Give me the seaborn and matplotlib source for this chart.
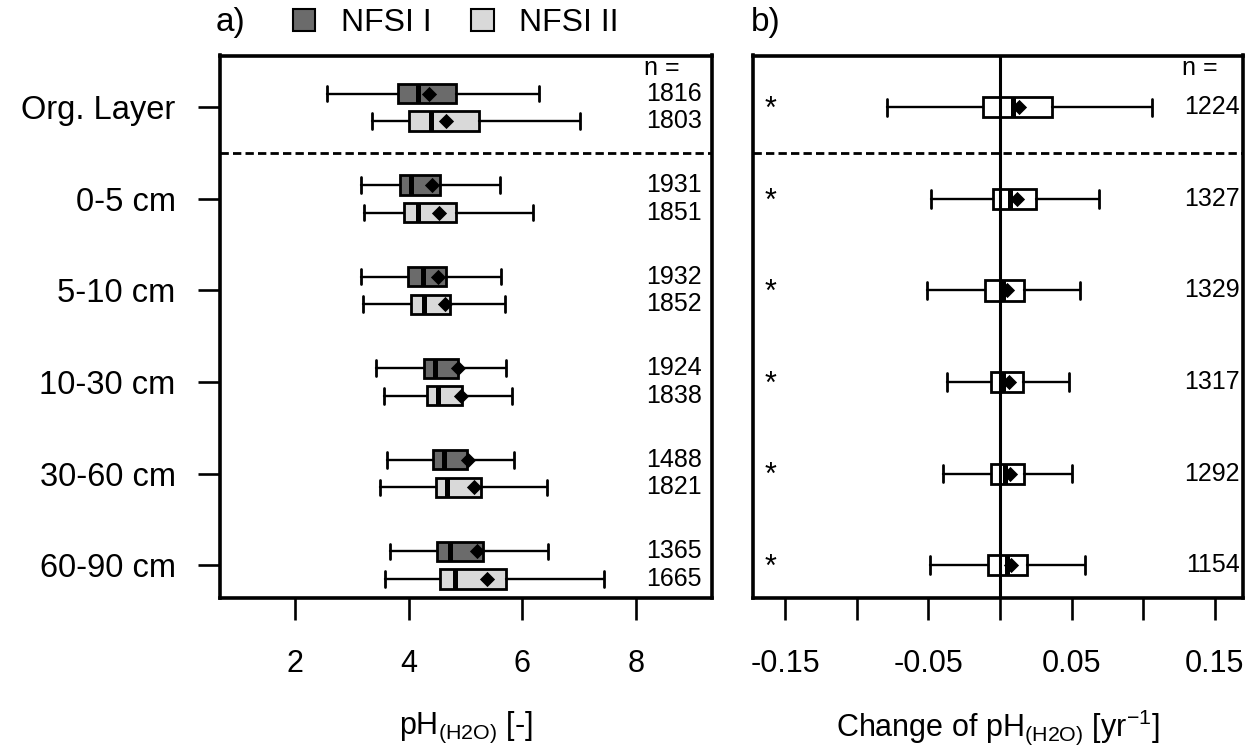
import matplotlib
matplotlib.use("Agg")
import matplotlib.pyplot as plt
import matplotlib.transforms as mtransforms
from matplotlib.patches import Patch
import numpy as np
import pandas as pd
import seaborn as sns

# ---------------- data ----------------
depths = ["Org. Layer", "0-5 cm", "5-10 cm", "10-30 cm", "30-60 cm", "60-90 cm"]

# NFSI I  (pH H2O)
whislo1 = [2.57, 3.16, 3.16, 3.42, 3.62, 3.67]
q1_1 = [3.82, 3.85, 3.98, 4.27, 4.42, 4.50]
med1 = [4.17, 4.05, 4.26, 4.46, 4.62, 4.73]
mean1 = [4.36, 4.41, 4.52, 4.86, 5.04, 5.20]
q3_1 = [4.83, 4.56, 4.66, 4.87, 5.02, 5.31]
whishi1 = [6.30, 5.61, 5.63, 5.71, 5.86, 6.46]
n1 = [1816, 1931, 1932, 1924, 1488, 1365]

# NFSI II (pH H2O)
whislo2 = [3.35, 3.22, 3.20, 3.57, 3.50, 3.58]
q1_2 = [4.01, 3.91, 4.04, 4.32, 4.48, 4.55]
med2 = [4.39, 4.17, 4.27, 4.52, 4.67, 4.82]
mean2 = [4.66, 4.54, 4.64, 4.92, 5.15, 5.37]
q3_2 = [5.24, 4.83, 4.72, 4.93, 5.27, 5.71]
whishi2 = [7.01, 6.19, 5.70, 5.81, 6.43, 7.43]
n2 = [1803, 1851, 1852, 1838, 1821, 1665]

# change of pH per year
whislo_c = [-0.079, -0.048, -0.051, -0.037, -0.040, -0.049]
q1_c = [-0.012, -0.005, -0.0105, -0.0063, -0.0063, -0.0086]
med_c = [0.009, 0.007, 0.002, 0.0023, 0.0035, 0.0047]
mean_c = [0.0135, 0.0116, 0.0047, 0.0065, 0.0070, 0.0075]
q3_c = [0.036, 0.025, 0.017, 0.0158, 0.017, 0.019]
whishi_c = [0.106, 0.069, 0.056, 0.048, 0.050, 0.059]
n_c = [1224, 1327, 1329, 1317, 1292, 1154]
signif = ["*", "*", "*", "*", "*", "*"]

series_labels = ["NFSI I", "NFSI II"]
xticks_a = [2, 4, 6, 8]
xticks_b = [-0.15, -0.10, -0.05, 0.0, 0.05, 0.10, 0.15]
xticklabels_b = ["-0.15", "", "-0.05", "", "0.05", "", "0.15"]

# ---------------- style ----------------
sns.set_style("ticks")
plt.rcParams["font.family"] = ["Liberation Sans", "DejaVu Sans"]
plt.rcParams["mathtext.default"] = "regular"
plt.rcParams["text.color"] = "black"
plt.rcParams["axes.labelcolor"] = "black"
plt.rcParams["xtick.color"] = "black"
plt.rcParams["ytick.color"] = "black"

DARK = "#6b6b6b"
LIGHT = "#d9d9d9"


def make_stats(lo, q1, med, q3, hi):
    return [dict(whislo=a, q1=b, med=c, q3=d, whishi=e, fliers=[])
            for a, b, c, d, e in zip(lo, q1, med, q3, hi)]


fig = plt.figure(figsize=(12.57, 7.5), dpi=100)
H = 0.7227
B = 0.2033
axa = fig.add_axes([0.1750, B, 0.3918, H])
axb = fig.add_axes([0.5988, B, 0.3898, H])

pos = np.arange(len(depths))
off = 0.15

common = dict(orientation="horizontal", patch_artist=True, showfliers=False,
              whiskerprops=dict(color="black", lw=1.7),
              capprops=dict(color="black", lw=2.0),
              medianprops=dict(color="black", lw=3.6, solid_capstyle="butt"))

axa.bxp(make_stats(whislo1, q1_1, med1, q3_1, whishi1), positions=pos - off,
        widths=0.21, capwidths=0.17,
        boxprops=dict(facecolor=DARK, edgecolor="black", linewidth=2.0), **common)
axa.bxp(make_stats(whislo2, q1_2, med2, q3_2, whishi2), positions=pos + off,
        widths=0.21, capwidths=0.17,
        boxprops=dict(facecolor=LIGHT, edgecolor="black", linewidth=2.0), **common)

dfa = pd.DataFrame({"mean": mean1 + mean2,
                    "pos": list(pos - off) + list(pos + off)})
sns.scatterplot(data=dfa, x="mean", y="pos", marker="D", color="black", s=60,
                linewidth=0, ax=axa, zorder=6, legend=False)

axb.axvline(0, color="black", lw=2.2, zorder=3)
axb.bxp(make_stats(whislo_c, q1_c, med_c, q3_c, whishi_c), positions=pos,
        widths=0.22, capwidths=0.19,
        boxprops=dict(facecolor="white", edgecolor="black", linewidth=2.0), **common)
dfb = pd.DataFrame({"mean": mean_c, "pos": pos})
sns.scatterplot(data=dfb, x="mean", y="pos", marker="D", color="black", s=60,
                linewidth=0, ax=axb, zorder=6, legend=False)

for ax in (axa, axb):
    ax.axhline(0.5, color="black", lw=2.0, ls=(0, (3, 1.5)), zorder=1)
    ax.set_ylim(5.353, -0.565)
    for sp in ax.spines.values():
        sp.set_visible(True)
        sp.set_color("black")
        sp.set_linewidth(2.6)
    ax.tick_params(axis="x", length=16, width=1.9, color="black", pad=21,
                   labelsize=22, labelcolor="black")
    ax.set_ylabel("")

axa.set_xlim(0.680, 9.346)
axa.set_xticks(xticks_a, [str(t) for t in xticks_a])
axa.set_yticks(pos, depths)
axa.tick_params(axis="y", length=16, width=1.9, color="black", pad=16,
                labelsize=23.5, labelcolor="black")

axb.set_xlim(-0.1726, 0.1694)
axb.set_xticks(xticks_b, xticklabels_b)
axb.set_yticks([])

# n labels
NFS = 18
ta = mtransforms.blended_transform_factory(axa.transAxes, axa.transData)
tb = mtransforms.blended_transform_factory(axb.transAxes, axb.transData)
for i in range(len(depths)):
    axa.text(0.978, pos[i] - off, str(n1[i]), ha="right", va="center",
             fontsize=NFS, transform=ta)
    axa.text(0.978, pos[i] + off, str(n2[i]), ha="right", va="center",
             fontsize=NFS, transform=ta)
    axb.text(0.994, pos[i], str(n_c[i]), ha="right", va="center",
             fontsize=NFS, transform=tb)
    axb.text(0.037, pos[i] + 0.03, signif[i], ha="center", va="center",
             fontsize=22, transform=tb)
axa.text(0.860, -0.425, "n =", ha="left", va="center", fontsize=NFS, transform=ta)
axb.text(0.876, -0.425, "n =", ha="left", va="center", fontsize=NFS, transform=tb)

# axis labels
axa.set_xlabel(r"pH$_{(H2O)}$ [-]", fontsize=22)
axb.set_xlabel(r"Change of pH$_{(H2O)}$ [yr$^{-1}$]", fontsize=22)
for ax in (axa, axb):
    ax.xaxis.set_label_coords(0.5, -0.24)
    ax.xaxis.label.set_va("center")

# panel letters
fig.text(216 / 1257, 1 - 23 / 750, "a)", fontsize=24, ha="left", va="center")
fig.text(751 / 1257, 1 - 23 / 750, "b)", fontsize=24, ha="left", va="center")

# legend
handles = [Patch(facecolor=DARK, edgecolor="black", lw=1.5, label=series_labels[0]),
           Patch(facecolor=LIGHT, edgecolor="black", lw=1.5, label=series_labels[1])]
fig.legend(handles=handles, loc="center left",
           bbox_to_anchor=(292.7 / 1257, 1 - 23 / 750), ncol=2, frameon=False,
           fontsize=23, handlelength=0.70, handleheight=0.70,
           handletextpad=0.80, columnspacing=1.25, borderpad=0, borderaxespad=0)

fig.savefig("out.png", dpi=100)
